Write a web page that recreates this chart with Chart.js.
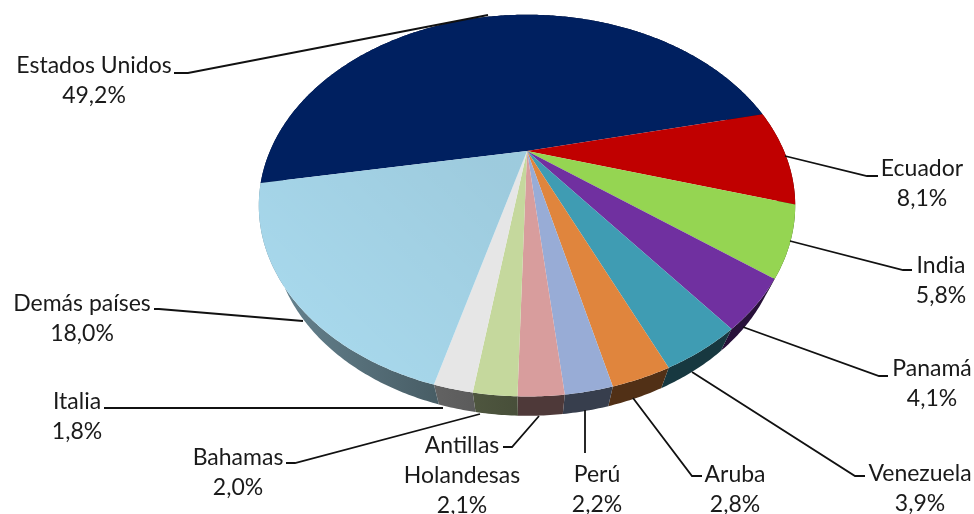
<!DOCTYPE html>
<html>
<head>
<meta charset="utf-8">
<title>Pie</title>
<script src="https://cdn.jsdelivr.net/npm/chart.js@4"></script>
<style>
  html, body { margin: 0; padding: 0; background: #fff; overflow: hidden; }
  canvas { display: block; }
</style>
</head>
<body>
<canvas id="myChart" width="974" height="514"></canvas>
<script>
const categories = ["Estados Unidos", "Ecuador", "India", "Panamá", "Venezuela", "Aruba", "Perú", "Antillas Holandesas", "Bahamas", "Italia", "Demás países"];
const shares = [49.2, 8.1, 5.8, 4.1, 3.9, 2.8, 2.2, 2.1, 2.0, 1.8, 18.0];
const sliceColors = ["#002060", "#c00000", "#95d552", "#7030a0", "#3f9cb3", "#e0853d", "#98acd6", "#d89d9d", "#c5d89d", "#e6e6e6", "#a9daee"];

// where each label sits: center x, baseline of first line
const labelPos = [[94, 73], [922, 176], [941, 273], [932, 376], [920, 481], [735, 482], [597, 482], [462, 453], [238, 465], [77, 409], [82, 311]];
// leader lines, label side first
const leaders = [
  [[174, 73], [188, 73], [488, 15]],
  [[878, 176], [867, 176], [785, 156]],
  [[912, 270], [903, 270], [790, 241]],
  [[888, 376], [879, 376], [743, 327]],
  [[865, 476], [855, 476], [692, 372]],
  [[702, 476], [692, 476], [633, 398]],
  [[585, 453], [585, 410]],
  [[503, 447], [512, 447], [539, 416]],
  [[286, 463], [295, 463], [480, 414]],
  [[104, 408], [443, 408]],
  [[154, 309], [159, 309], [303, 321]]
];

const centerShift = 106;
const tilt = 0.286;
const squash = 0.682;
const vanishY = 880;
const wallScale = 0.96;
const wallScaleX = 0.947;

function project(arc, angle, lower) {
  const u = Math.cos(angle), v = Math.sin(angle);
  const w = 1 - tilt * v;
  let x = arc.x + arc.outerRadius * u / w;
  let y = arc.y - centerShift + squash * arc.outerRadius * v / w;
  if (lower) {
    x = arc.x + (x - arc.x) * wallScaleX;
    y = vanishY + (y - vanishY) * wallScale;
  }
  return [x, y];
}

function shade(hex, f) {
  const n = parseInt(hex.slice(1), 16);
  const r = Math.round((n >> 16) * f), g = Math.round(((n >> 8) & 255) * f), b = Math.round((n & 255) * f);
  return `rgb(${r},${g},${b})`;
}

function arcSteps(arc) {
  const steps = [];
  const count = Math.ceil((arc.endAngle - arc.startAngle) / 0.01);
  for (let i = 0; i <= count; i++) {
    steps.push(arc.startAngle + (arc.endAngle - arc.startAngle) * i / count);
  }
  return steps;
}

function drawWall(ctx, arc, color) {
  const steps = arcSteps(arc);
  ctx.beginPath();
  steps.forEach(a => ctx.lineTo(...project(arc, a, false)));
  steps.reverse().forEach(a => ctx.lineTo(...project(arc, a, true)));
  ctx.closePath();
  const grad = ctx.createLinearGradient(259, 0, 795, 0);
  grad.addColorStop(0, shade(color, 0.62));
  grad.addColorStop(0.34, shade(color, 0.42));
  grad.addColorStop(0.49, shade(color, 0.36));
  grad.addColorStop(1, shade(color, 0.36));
  ctx.fillStyle = grad;
  ctx.fill();
}

function topPath(ctx, arc) {
  ctx.beginPath();
  ctx.moveTo(arc.x, arc.y - centerShift);
  arcSteps(arc).forEach(a => ctx.lineTo(...project(arc, a, false)));
  ctx.closePath();
}

const pie3d = {
  id: "pie3d",
  beforeDatasetsDraw(chart) {
    const ctx = chart.ctx;
    const arcs = chart.getDatasetMeta(0).data;
    ctx.save();
    arcs.forEach((arc, i) => drawWall(ctx, arc, sliceColors[i]));
    arcs.forEach((arc, i) => {
      topPath(ctx, arc);
      ctx.fillStyle = sliceColors[i];
      ctx.fill();
      // the big pale slice gets a soft shadow near the center
      if (i === arcs.length - 1) {
        const light = ctx.createLinearGradient(500, 170, 300, 380);
        light.addColorStop(0, "rgba(0,0,0,0.07)");
        light.addColorStop(1, "rgba(0,0,0,0)");
        ctx.fillStyle = light;
        ctx.fill();
      }
    });
    ctx.restore();
    return false;
  },
  afterDraw(chart) {
    const ctx = chart.ctx;
    ctx.save();
    ctx.strokeStyle = "#111";
    ctx.lineWidth = 1.8;
    leaders.forEach(pts => {
      ctx.beginPath();
      pts.forEach(p => ctx.lineTo(p[0], p[1]));
      ctx.stroke();
    });
    ctx.fillStyle = "#1a1a1a";
    ctx.font = "23px Lato, sans-serif";
    ctx.textAlign = "center";
    categories.forEach((name, i) => {
      const lines = name === "Antillas Holandesas" ? name.split(" ") : [name];
      lines.push(shares[i].toFixed(1).replace(".", ",") + "%");
      lines.forEach((line, j) => ctx.fillText(line, labelPos[i][0], labelPos[i][1] + j * 30));
    });
    ctx.restore();
  }
};

new Chart(document.getElementById("myChart"), {
  type: "pie",
  data: {
    labels: categories,
    datasets: [{ data: shares, backgroundColor: sliceColors, borderWidth: 0 }]
  },
  options: {
    responsive: false,
    animation: false,
    rotation: 260,
    layout: { padding: { left: 80 } },
    plugins: { legend: { display: false }, tooltip: { enabled: false } }
  },
  plugins: [pie3d]
});
</script>
</body>
</html>
